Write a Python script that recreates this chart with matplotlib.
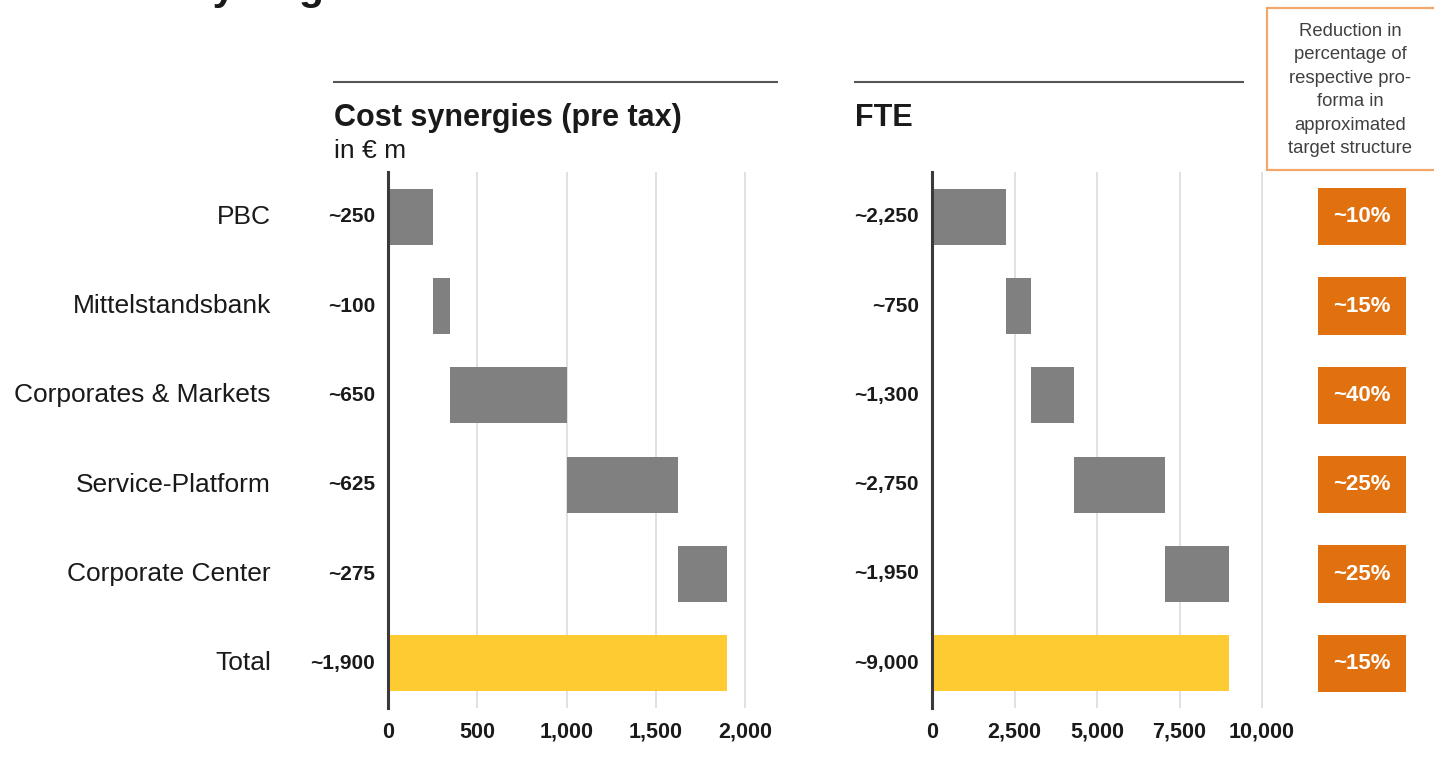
"""Cost synergies and FTE reduction by segment, drawn as two waterfalls
with a column of reduction percentages on the right. Writes out.png."""

import matplotlib
import numpy as np

matplotlib.use("Agg")
import matplotlib.pyplot as plt  # noqa: E402
from matplotlib.patches import Rectangle  # noqa: E402

plt.rcParams["font.family"] = ["Liberation Sans", "DejaVu Sans"]

W, H = 1434, 760  # canvas in pixels, dpi 100

categories = ["PBC", "Mittelstandsbank", "Corporates & Markets",
              "Service-Platform", "Corporate Center", "Total"]
cost_eur_m = [250, 100, 650, 625, 275]          # pre-tax, € m
fte = [2250, 750, 1300, 2750, 1950]
reduction_pct = [10, 15, 40, 25, 25, 15]        # last entry = total
cost_ticks = [0, 500, 1000, 1500, 2000]
fte_ticks = [0, 2500, 5000, 7500, 10000]

C_GRAY = "#808080"
C_TOTAL = "#FFCB32"
C_ORANGE = "#E1700F"
C_BOX_EDGE = "#F2A66A"
C_TEXT = "#1A1A1A"
C_SPINE = "#3A3A3A"
C_GRID = "#DEDEDE"


def px_rect(x0, y0, x1, y1):
    """Pixel box (top-left origin) -> figure-fraction [l, b, w, h]."""
    return [x0 / W, 1 - y1 / H, (x1 - x0) / W, (y1 - y0) / H]


def waterfall(ax, values, ticks, xmax):
    n = len(values)
    starts = np.concatenate([[0], np.cumsum(values)[:-1]])
    total = int(sum(values))
    rows = np.arange(n + 1)

    ax.barh(rows[:n], values, left=starts, height=0.63, color=C_GRAY, zorder=3)
    ax.barh(rows[n], total, height=0.63, color=C_TOTAL, zorder=3)

    for r, v in zip(rows, list(values) + [total]):
        ax.annotate(f"~{v:,}", xy=(0, r), xytext=(-13, 0), textcoords="offset pixels",
                    ha="right", va="center", fontsize=15, fontweight="bold", color=C_TEXT)

    ax.set_xlim(0, xmax)
    ax.set_ylim(n + 0.5, -0.5)
    ax.set_xticks(ticks)
    ax.set_xticklabels([f"{t:,}" for t in ticks], fontsize=15.5, fontweight="bold", color=C_TEXT)
    ax.tick_params(axis="x", length=0, pad=10)
    ax.set_yticks([])
    ax.xaxis.grid(True, color=C_GRID, linewidth=1.3, zorder=0)
    ax.set_axisbelow(True)
    for side in ("top", "right", "bottom"):
        ax.spines[side].set_visible(False)
    ax.spines["left"].set_color(C_SPINE)
    ax.spines["left"].set_linewidth(2.2)
    ax.spines["left"].set_zorder(4)


fig = plt.figure(figsize=(W / 100, H / 100), dpi=100)

# page title, running off the top edge of the slide crop
fig.text(-12 / W, 1.0, "Total cost synergies overview", ha="left", va="baseline",
         fontsize=29.5, fontweight="bold", color=C_TEXT)

ax_cost = fig.add_axes(px_rect(388, 172, 388 + 2040 * 357 / 2000, 708))
waterfall(ax_cost, cost_eur_m, cost_ticks, 2040)

ax_fte = fig.add_axes(px_rect(932, 172, 932 + 10200 * 330 / 10000, 708))
waterfall(ax_fte, fte, fte_ticks, 10200)

# segment names to the left of the cost waterfall
for r, name in enumerate(categories):
    ax_cost.annotate(name, xy=(0, r), xytext=(-117, 0), textcoords="offset pixels",
                     ha="right", va="center", fontsize=19, color=C_TEXT)

# section headers with rules above them
for x0, x1, head in [(334, 777, "Cost synergies (pre tax)"), (855, 1243, "FTE")]:
    fig.add_artist(plt.Line2D([x0 / W, x1 / W], [1 - 82 / H] * 2, color="#555555", linewidth=1.5))
    fig.text(x0 / W, 1 - 118 / H, head, ha="left", va="center",
             fontsize=22, fontweight="bold", color=C_TEXT)
fig.text(334 / W, 1 - 151 / H, "in € m", ha="left", va="center", fontsize=19, color=C_TEXT)

# reduction column: header box plus one orange tag per row
fig.add_artist(Rectangle((1267 / W, 1 - 170 / H), 170 / W, 162 / H, transform=fig.transFigure,
                         facecolor="white", edgecolor=C_BOX_EDGE, linewidth=1.6))
fig.text(1350 / W, 1 - 90 / H,
         "Reduction in\npercentage of\nrespective pro-\nforma in\napproximated\ntarget structure",
         ha="center", va="center", fontsize=13.3, color="#404040", linespacing=1.5)

ax_pct = fig.add_axes(px_rect(1318, 172, 1406, 708), sharey=ax_cost)
ax_pct.barh(np.arange(len(reduction_pct)), [1] * len(reduction_pct), height=0.64, color=C_ORANGE)
for r, p in enumerate(reduction_pct):
    ax_pct.text(0.5, r, f"~{p}%", ha="center", va="center", fontsize=16,
                fontweight="bold", color="white")
ax_pct.set_xlim(0, 1)
ax_pct.axis("off")

fig.savefig("out.png", dpi=100)
